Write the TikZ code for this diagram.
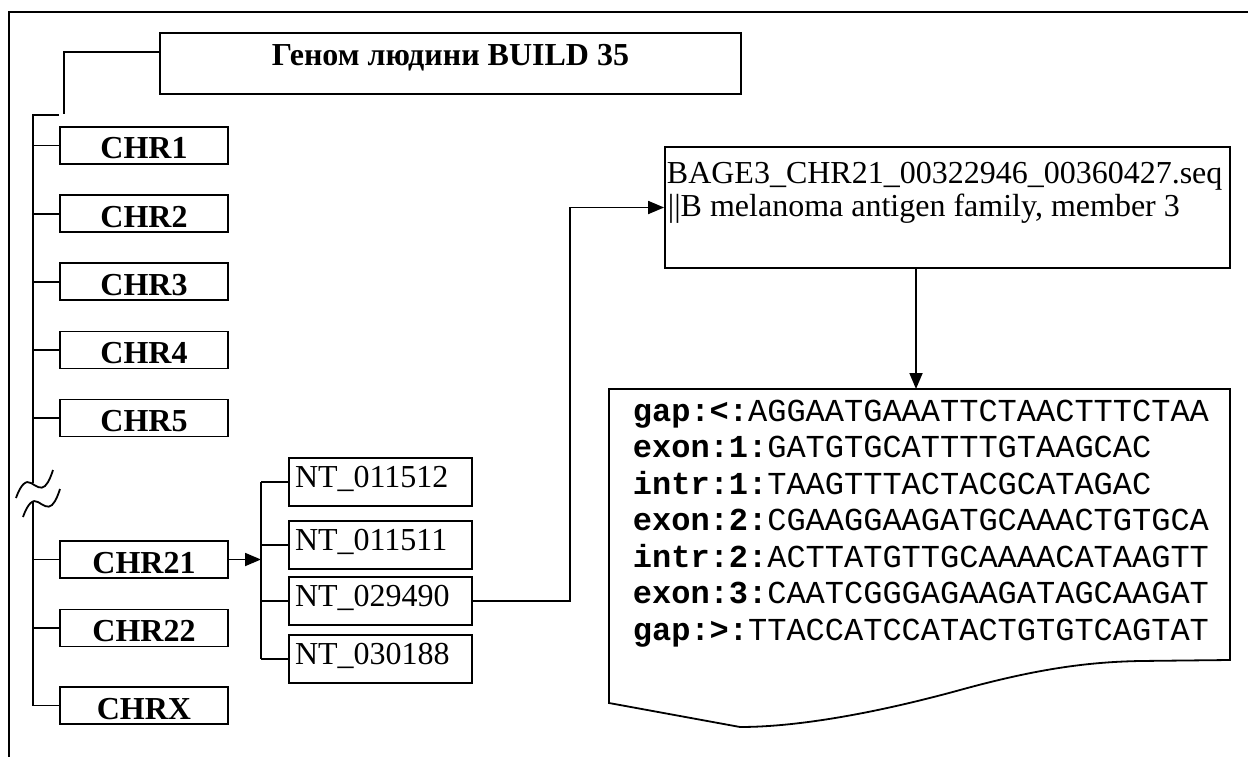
\documentclass[tikz,border=0pt]{standalone}
\usepackage{fontspec}
\setmainfont{Liberation Serif}
\setmonofont{Liberation Mono}
\usetikzlibrary{arrows.meta}
\begin{document}
\begin{tikzpicture}[x=1pt,y=-1pt,line width=1.8pt,
  every node/.style={inner sep=0pt},
  chrbox/.style={draw, minimum width=168pt, minimum height=37pt, font=\fontsize{32}{38}\selectfont\bfseries, text height=27pt, text depth=0pt},
  ntbox/.style={draw, minimum width=183pt, minimum height=48pt, text width=171pt, align=left, font=\fontsize{32}{38}\selectfont, text height=24pt, text depth=14pt},
  row/.style={anchor=base west, font=\ttfamily\fontsize{32}{36}\selectfont},
  bline/.style={anchor=base west, font=\fontsize{32}{38}\selectfont},
  arr/.style={-{Triangle[length=16pt,width=13pt]}}]
\useasboundingbox (0,0) rectangle (1248,757);
% outer frame
\draw[line width=1.5pt] (9,757) -- (9,12) -- (1248,12);
% title
\node[draw, minimum width=581pt, minimum height=61pt, font=\fontsize{32}{38}\selectfont\bfseries, text height=22pt, text depth=17pt] (title) at (450.5,63.5) {Геном людини BUILD 35};
% chromosome boxes
\node[chrbox] (c1) at (144,145.5) {CHR1};
\node[chrbox] (c2) at (144,213.6) {CHR2};
\node[chrbox] (c3) at (144,281.8) {CHR3};
\node[chrbox] (c4) at (144,349.9) {CHR4};
\node[chrbox] (c5) at (144,418) {CHR5};
\node[chrbox] (c21) at (144,559.5) {CHR21};
\node[chrbox] (c22) at (144,628) {CHR22};
\node[chrbox] (cx) at (144,705.5) {CHRX};
% contigs
\node[ntbox] (nt1) at (380.5,482) {NT\_011512};
\node[ntbox] (nt2) at (380.5,545) {NT\_011511};
\node[ntbox] (nt3) at (380.5,601) {NT\_029490};
\node[ntbox] (nt4) at (380.5,659) {NT\_030188};
% gene file box
\node[draw, minimum width=565pt, minimum height=121pt] (bage) at (947.5,207.5) {};
\node[bline] (bage1) at (666,183) {BAGE3\_CHR21\_00322946\_00360427.seq};
\node[bline] (bage2) at (667,216) {||B melanoma antigen family, member 3};
% sequence box
\coordinate (seqtop) at (916,389);
\draw (609,389) -- (1230,389) -- (1230,660) -- (1140,661)
  .. controls (1090,662) and (1040,668) .. (960,690)
  .. controls (880,712) and (800,727) .. (740,727) -- (609,703) -- cycle;
\node[row] (r1) at (632,421) {\textbf{gap:<:}AGGAATGAAATTCTAACTTTCTAA};
\node[row] (r2) at (632,457.5) {\textbf{exon:1:}GATGTGCATTTTGTAAGCAC};
\node[row] (r3) at (632,494) {\textbf{intr:1:}TAAGTTTACTACGCATAGAC};
\node[row] (r4) at (632,530.5) {\textbf{exon:2:}CGAAGGAAGATGCAAACTGTGCA};
\node[row] (r5) at (632,567) {\textbf{intr:2:}ACTTATGTTGCAAAACATAAGTT};
\node[row] (r6) at (632,603.5) {\textbf{exon:3:}CAATCGGGAGAAGATAGCAAGAT};
\node[row] (r7) at (632,640) {\textbf{gap:>:}TTACCATCCATACTGTGTCAGTAT};
% tree connectors
\coordinate (tk) at (64,52);
\coordinate (tb) at (64,114);
\coordinate (trunktop) at (33,115);
\coordinate (breaktop) at (33,483);
\coordinate (breakbot) at (33,502);
\draw (tk -| title.west) -- (tk) -- (tb);
\draw (trunktop -| c1.west) -- (trunktop) -- (breaktop);
\draw (breakbot) -- (cx.west -| breakbot) -- (cx.west);
\foreach \n in {c1,c2,c3,c4,c5,c21,c22}
  \draw (\n.west -| trunktop) -- (\n.west);
% break marks
\draw (16,498) .. controls (21,484) and (26,480) .. (31,483) .. controls (36,486) and (41,490) .. (45,486) .. controls (49,482) and (51,476) .. (53,470);
\draw (23,517) .. controls (28,503) and (33,499) .. (38,502) .. controls (43,505) and (48,509) .. (52,505) .. controls (56,501) and (58,495) .. (60,489);
% contig bracket
\coordinate (ntbar) at (261,486);
\draw (nt1.west -| ntbar) -- (nt4.west -| ntbar);
\foreach \n in {nt1,nt2,nt3,nt4}
  \draw (\n.west -| ntbar) -- (\n.west);
\draw[arr] (c21.east) -- (c21.east -| ntbar);
% to gene file
\coordinate (bend) at (570,300);
\draw[arr] (nt3.east) -- (nt3.east -| bend) -- (bage.west -| bend) -- (bage.west);
\draw[arr] (bage.south -| seqtop) -- (seqtop);
\end{tikzpicture}
\end{document}
